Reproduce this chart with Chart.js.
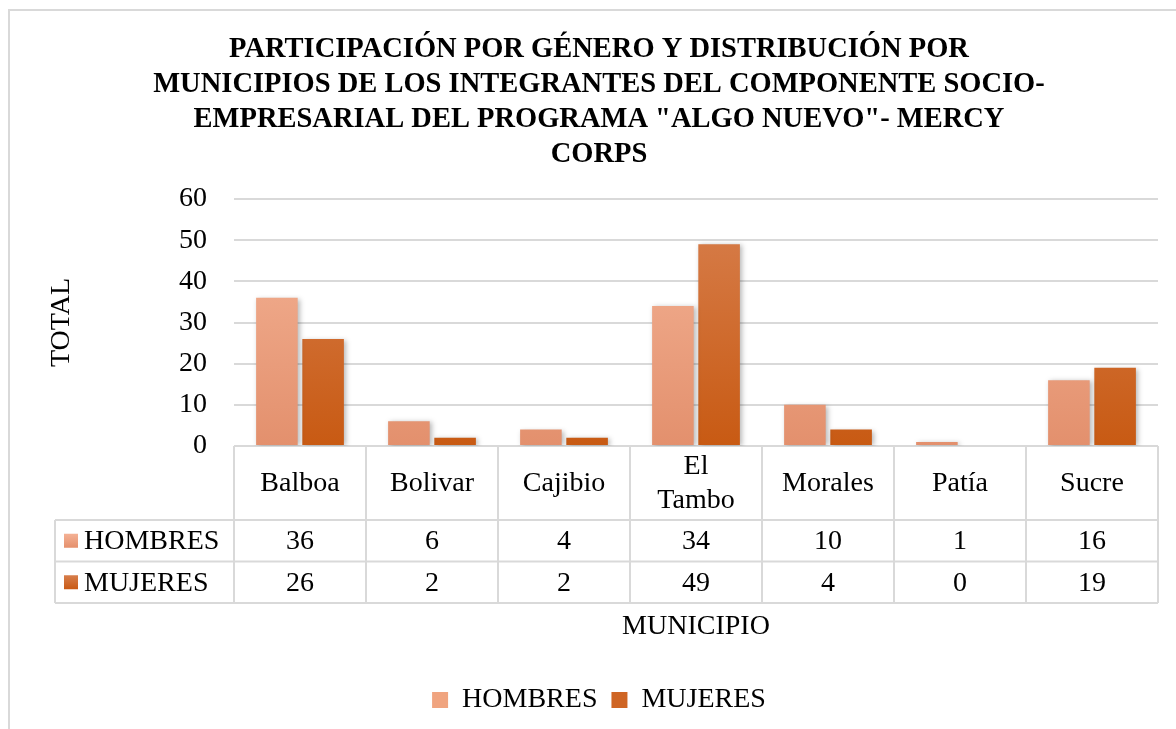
<!DOCTYPE html>
<html>
<head>
<meta charset="utf-8">
<script src="https://cdn.jsdelivr.net/npm/chart.js@4.4.1/dist/chart.umd.min.js"></script>
<style>
  body { margin: 0; background: #fff; }
  #wrap { width: 1176px; height: 729px; position: relative; }
</style>
</head>
<body>
<div id="wrap"><canvas id="grafico"></canvas></div>
<script>
// Datos
const municipios = ['Balboa', 'Bolivar', 'Cajibio', ['El', 'Tambo'], 'Morales', 'Patía', 'Sucre'];
const hombres = [36, 6, 4, 34, 10, 1, 16];
const mujeres = [26, 2, 2, 49, 4, 0, 19];
const ticksY = [0, 10, 20, 30, 40, 50, 60];
const titulo = [
    'PARTICIPACIÓN POR GÉNERO Y DISTRIBUCIÓN POR',
    'MUNICIPIOS DE LOS INTEGRANTES DEL COMPONENTE SOCIO-',
    'EMPRESARIAL DEL PROGRAMA "ALGO NUEVO"- MERCY',
    'CORPS'
];

const FUENTE = "'Liberation Serif', 'Times New Roman', serif";
const TAM = 28;
const GRIS = '#d9d9d9';
Chart.defaults.font.family = FUENTE;
Chart.defaults.color = '#000';

function degradado(chart, arriba, abajo) {
    const area = chart.chartArea;
    if (!area) return abajo;
    const g = chart.ctx.createLinearGradient(0, area.top, 0, area.bottom);
    g.addColorStop(0, arriba);
    g.addColorStop(1, abajo);
    return g;
}

// sombra de las barras
const sombra = {
    id: 'sombra',
    beforeDatasetsDraw(chart) {
        const ctx = chart.ctx;
        ctx.save();
        ctx.shadowColor = 'rgba(0,0,0,0.28)';
        ctx.shadowBlur = 5;
        ctx.shadowOffsetX = 2;
        ctx.shadowOffsetY = 1;
    },
    afterDatasetsDraw(chart) {
        chart.ctx.restore();
    }
};

// tabla de datos bajo el eje X + borde del grafico
const tabla = {
    id: 'tabla',
    afterDraw(chart) {
        const ctx = chart.ctx;
        const x = chart.scales.x;
        const area = chart.chartArea;
        const mitad = (x.getPixelForValue(1) - x.getPixelForValue(0)) / 2;
        const top = area.bottom;
        const fila1 = top + 74;
        const alto = 41.5;
        const fin = fila1 + alto * 2;
        const izq = 55;

        ctx.save();
        ctx.strokeStyle = GRIS;
        ctx.lineWidth = 2;

        // borde exterior del grafico
        ctx.beginPath();
        ctx.moveTo(9, 729);
        ctx.lineTo(9, 10);
        ctx.lineTo(1176, 10);
        ctx.stroke();

        ctx.beginPath();
        for (let i = 0; i <= municipios.length; i++) {
            const bx = x.getPixelForValue(i) - mitad;
            ctx.moveTo(bx, top);
            ctx.lineTo(bx, fin);
        }
        ctx.moveTo(izq, fila1);
        ctx.lineTo(izq, fin);
        [fila1, fila1 + alto, fin].forEach(y => {
            ctx.moveTo(izq, y);
            ctx.lineTo(area.right, y);
        });
        ctx.stroke();

        ctx.fillStyle = '#000';
        ctx.font = TAM + 'px ' + FUENTE;
        ctx.textAlign = 'center';
        ctx.textBaseline = 'middle';
        const centroCat = (top + fila1) / 2 + 1;
        municipios.forEach((m, i) => {
            const cx = x.getPixelForValue(i);
            const lineas = Array.isArray(m) ? m : [m];
            lineas.forEach((l, k) => {
                ctx.fillText(l, cx, centroCat + (k - (lineas.length - 1) / 2) * 34);
            });
            ctx.fillText(String(hombres[i]), cx, fila1 + alto / 2 + 1);
            ctx.fillText(String(mujeres[i]), cx, fila1 + alto * 1.5 + 1);
        });

        const series = chart.data.datasets;
        series.forEach((ds, k) => {
            const cy = fila1 + alto * (k + 0.5);
            const colores = k === 0 ? ['#f4b195', '#e5906c'] : ['#d77e4c', '#c95a14'];
            const g = ctx.createLinearGradient(0, cy - 7, 0, cy + 7);
            g.addColorStop(0, colores[0]);
            g.addColorStop(1, colores[1]);
            ctx.fillStyle = g;
            ctx.fillRect(64, cy - 7, 14, 14);
            ctx.fillStyle = '#000';
            ctx.textAlign = 'left';
            ctx.fillText(ds.label, 84, cy + 1);
        });
        ctx.restore();
    }
};

new Chart(document.getElementById('grafico'), {
    type: 'bar',
    data: {
        labels: municipios,
        datasets: [
            {
                label: 'HOMBRES',
                data: hombres,
                backgroundColor: ctx => degradado(ctx.chart, '#f5b598', '#e3906d')
            },
            {
                label: 'MUJERES',
                data: mujeres,
                backgroundColor: ctx => degradado(ctx.chart, '#d8804f', '#c85a13')
            }
        ]
    },
    options: {
        responsive: true,
        maintainAspectRatio: false,
        animation: false,
        layout: { padding: { left: 40, right: 18, top: 0, bottom: 5 } },
        categoryPercentage: 0.7,
        barPercentage: 0.9,
        plugins: {
            title: {
                display: true,
                text: titulo,
                font: { size: 28.5, weight: 'bold', lineHeight: 35 / 28.5 },
                color: '#000',
                padding: { top: 32, bottom: 27 }
            },
            legend: {
                position: 'bottom',
                labels: {
                    boxWidth: 16,
                    boxHeight: 16,
                    padding: 14,
                    font: { size: TAM },
                    color: '#000',
                    generateLabels(chart) {
                        return chart.data.datasets.map((ds, i) => ({
                            text: ds.label,
                            fillStyle: i === 0 ? '#f0a47f' : '#cf6524',
                            strokeStyle: 'transparent',
                            lineWidth: 0,
                            datasetIndex: i
                        }));
                    }
                }
            },
            tooltip: { enabled: false }
        },
        scales: {
            x: {
                grid: { display: false },
                border: { display: false },
                ticks: { display: false },
                title: {
                    display: true,
                    text: 'MUNICIPIO',
                    font: { size: TAM },
                    color: '#000',
                    padding: { top: 0, bottom: 29 }
                },
                afterFit(scale) { scale.height = 226; }
            },
            y: {
                min: 0,
                max: 60,
                afterBuildTicks(scale) { scale.ticks = ticksY.map(v => ({ value: v })); },
                grid: { color: GRIS, lineWidth: 2, drawTicks: false },
                border: { display: false },
                ticks: { font: { size: TAM }, color: '#000', padding: 27 },
                title: {
                    display: true,
                    text: 'TOTAL',
                    font: { size: TAM },
                    color: '#000',
                    padding: { top: 5, bottom: 0 }
                },
                afterFit(scale) { scale.width = 194; }
            }
        }
    },
    plugins: [sombra, tabla]
});
</script>
</body>
</html>
